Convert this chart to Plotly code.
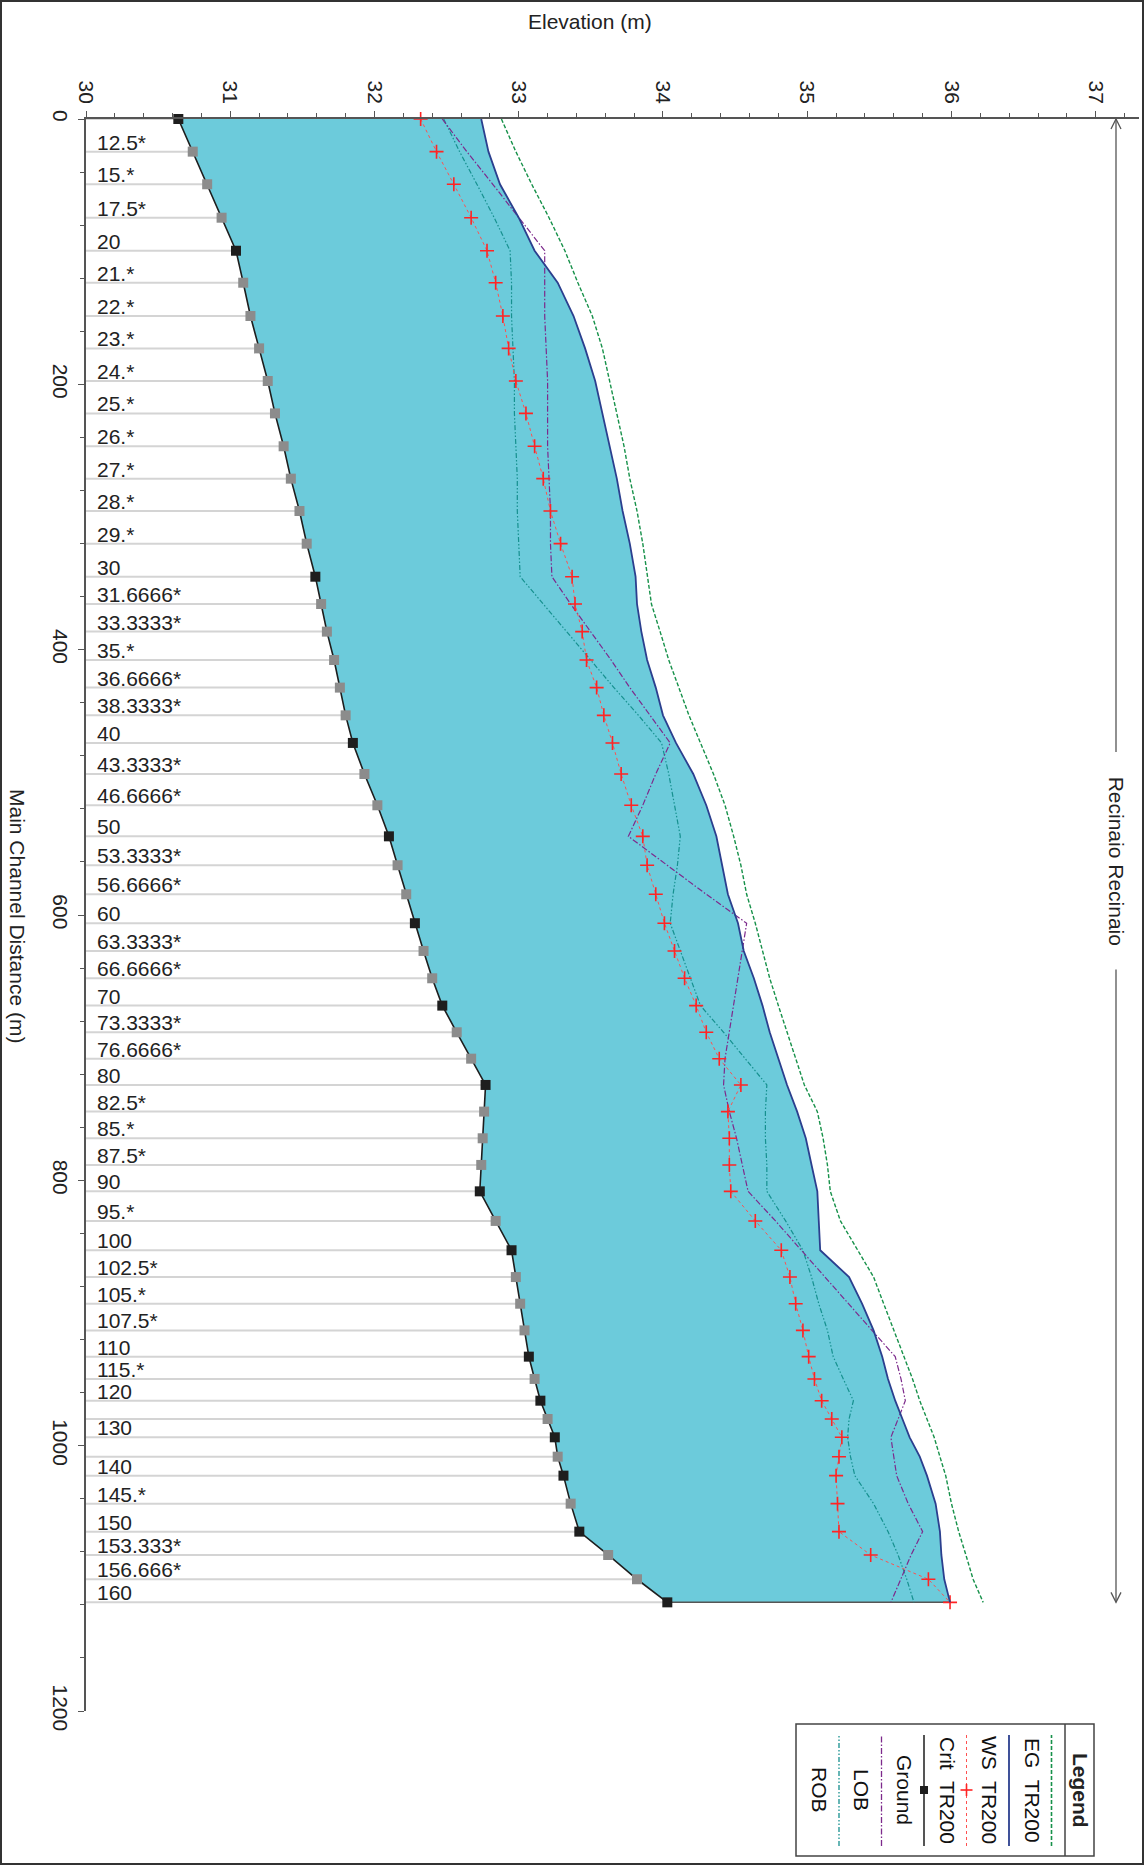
import plotly.graph_objects as go

# ---------------- data ----------------
stations = ["10", "12.5*", "15.*", "17.5*", "20", "21.*", "22.*", "23.*", "24.*", "25.*",
            "26.*", "27.*", "28.*", "29.*", "30", "31.6666*", "33.3333*", "35.*", "36.6666*",
            "38.3333*", "40", "43.3333*", "46.6666*", "50", "53.3333*", "56.6666*", "60",
            "63.3333*", "66.6666*", "70", "73.3333*", "76.6666*", "80", "82.5*", "85.*", "87.5*",
            "90", "95.*", "100", "102.5*", "105.*", "107.5*", "110", "115.*", "120", "125.*",
            "130", "135.*", "140", "145.*", "150", "153.333*", "156.666*", "160"]
hidden_labels = ["10", "125.*", "135.*"]

distance = [0, 24.6, 49.2, 74.4, 99.3, 123.4, 148.5, 172.9, 197.5, 221.9, 246.7, 271.1, 295.5,
            320.1, 345.0, 365.6, 386.4, 407.8, 428.6, 449.5, 470.3, 493.7, 517.3, 540.7, 562.5,
            584.4, 606.2, 627.1, 647.7, 668.3, 688.4, 708.3, 728.1, 748.2, 768.3, 788.4, 808.3,
            830.6, 852.7, 872.9, 893.0, 913.1, 932.9, 949.7, 966.1, 979.9, 993.7, 1008.3, 1022.6,
            1043.7, 1064.8, 1082.4, 1100.7, 1118.1]

ground = [30.64, 30.74, 30.84, 30.94, 31.04, 31.09, 31.14, 31.20, 31.26, 31.31, 31.37, 31.42,
          31.48, 31.53, 31.59, 31.63, 31.67, 31.72, 31.76, 31.80, 31.85, 31.93, 32.02, 32.10,
          32.16, 32.22, 32.28, 32.34, 32.40, 32.47, 32.57, 32.67, 32.77, 32.76, 32.75, 32.74,
          32.73, 32.84, 32.95, 32.98, 33.01, 33.04, 33.07, 33.11, 33.15, 33.20, 33.25, 33.27,
          33.31, 33.36, 33.42, 33.62, 33.82, 34.03]

ws_tr200 = [32.74, 32.79, 32.87, 33.00, 33.11, 33.27, 33.38, 33.46, 33.53, 33.58, 33.63, 33.68,
            33.72, 33.77, 33.81, 33.82, 33.85, 33.89, 33.95, 34.00, 34.09, 34.21, 34.30, 34.37,
            34.41, 34.45, 34.52, 34.56, 34.63, 34.69, 34.74, 34.80, 34.86, 34.93, 34.99, 35.03,
            35.07, 35.08, 35.09, 35.29, 35.38, 35.46, 35.52, 35.56, 35.61, 35.66, 35.71, 35.78,
            35.83, 35.89, 35.92, 35.93, 35.95, 35.99]

crit_tr200 = [32.32, 32.43, 32.55, 32.67, 32.78, 32.84, 32.89, 32.93, 32.98, 33.05, 33.11, 33.17,
              33.22, 33.29, 33.37, 33.39, 33.44, 33.47, 33.54, 33.59, 33.65, 33.71, 33.78, 33.86,
              33.89, 33.95, 34.01, 34.08, 34.15, 34.23, 34.30, 34.39, 34.54, 34.45, 34.46, 34.46,
              34.47, 34.64, 34.82, 34.88, 34.92, 34.97, 35.01, 35.05, 35.10, 35.17, 35.24, 35.22,
              35.20, 35.21, 35.22, 35.44, 35.84, 35.99]

eg_tr200 = [32.88, 32.98, 33.09, 33.21, 33.32, 33.41, 33.51, 33.58, 33.63, 33.68, 33.73, 33.77,
            33.82, 33.86, 33.89, 33.92, 33.98, 34.04, 34.11, 34.18, 34.26, 34.35, 34.43, 34.49,
            34.54, 34.58, 34.64, 34.69, 34.74, 34.80, 34.86, 34.92, 34.98, 35.07, 35.11, 35.14,
            35.16, 35.23, 35.35, 35.46, 35.53, 35.60, 35.67, 35.73, 35.78, 35.83, 35.88, 35.92,
            35.96, 36.00, 36.05, 36.10, 36.15, 36.22]

lob = [32.47, 32.64, 32.82, 33.00, 33.18, 33.18, 33.18, 33.19, 33.20, 33.20, 33.20, 33.21,
       33.22, 33.22, 33.23, 33.36, 33.50, 33.64, 33.77, 33.91, 34.05, 33.95, 33.86, 33.76,
       34.03, 34.30, 34.58, 34.55, 34.52, 34.49, 34.46, 34.43, 34.42, 34.46, 34.51, 34.55,
       34.59, 34.78, 34.96, 35.12, 35.29, 35.45, 35.61, 35.65, 35.68, 35.63, 35.58, 35.60,
       35.62, 35.70, 35.80, 35.72, 35.65, 35.58]

rob = [32.48, 32.59, 32.71, 32.83, 32.94, 32.95, 32.95, 32.96, 32.97, 32.97, 32.98, 32.99,
       32.99, 33.00, 33.01, 33.17, 33.33, 33.50, 33.66, 33.83, 33.99, 34.04, 34.08, 34.12,
       34.10, 34.07, 34.05, 34.12, 34.19, 34.26, 34.42, 34.57, 34.72, 34.71, 34.71, 34.72,
       34.72, 34.85, 34.97, 35.03, 35.08, 35.14, 35.18, 35.25, 35.32, 35.29, 35.28, 35.30,
       35.33, 35.46, 35.56, 35.63, 35.69, 35.74]

reach_name = "Recinaio Recinaio"
x_range = [30, 37.3]
y_range = [1200, 0]

# ---------------- layout helpers ----------------
W, H = 1144, 1865
L, R, T, B = 86, 1139, 119, 1711


def px(x):
    return (x - L) / (R - L)


def py(y):
    return (B - y) / (B - T)


FONT = "Liberation Sans, Arial, sans-serif"
TXT = "#222222"
AX = "#555555"
C_WS = "#2b3f8e"
C_EG = "#17914a"
C_CRIT = "#ff2424"
C_LOB = "#7d2a8c"
C_ROB = "#16908f"
C_FILL = "#6ccbdb"
DASH_EG = "4px,2px"
DASH_LOB = "6px,2px,1.5px,2px"
DASH_ROB = "5px,2px,1.5px,2px,1.5px,2px"

fig = go.Figure()

# station lines from axis to ground
sx, sy = [], []
for d, g in zip(distance, ground):
    sx += [x_range[0], g, None]
    sy += [d, d, None]
fig.add_trace(go.Scatter(x=sx, y=sy, mode="lines", line=dict(color="#d4d4d4", width=2),
                         hoverinfo="skip", showlegend=False))

# water fill between ground and WS
fig.add_trace(go.Scatter(x=ground, y=distance, mode="lines", line=dict(width=0, color=C_FILL),
                         hoverinfo="skip", showlegend=False))
fig.add_trace(go.Scatter(x=ws_tr200, y=distance, mode="lines", line=dict(width=0, color=C_FILL),
                         fill="tonextx", fillcolor=C_FILL, hoverinfo="skip", showlegend=False))
fig.add_trace(go.Scatter(x=[ground[-1], ws_tr200[-1]], y=[distance[-1], distance[-1]],
                         mode="lines", line=dict(color="#555555", width=1.5),
                         hoverinfo="skip", showlegend=False))

# bank stations
fig.add_trace(go.Scatter(x=rob, y=distance, mode="lines", name="ROB",
                         line=dict(color=C_ROB, width=1.2, dash=DASH_ROB), showlegend=False))
fig.add_trace(go.Scatter(x=lob, y=distance, mode="lines", name="LOB",
                         line=dict(color=C_LOB, width=1.2, dash=DASH_LOB), showlegend=False))
# EG
fig.add_trace(go.Scatter(x=eg_tr200, y=distance, mode="lines", name="EG TR200",
                         line=dict(color=C_EG, width=1.4, dash=DASH_EG), showlegend=False))
# Crit
fig.add_trace(go.Scatter(x=crit_tr200, y=distance, mode="lines+markers", name="Crit TR200",
                         line=dict(color="#ff5050", width=1, dash="dot"),
                         marker=dict(symbol="cross-thin", size=10,
                                     line=dict(color=C_CRIT, width=1.6)),
                         cliponaxis=False, showlegend=False))
# WS
fig.add_trace(go.Scatter(x=ws_tr200, y=distance, mode="lines", name="WS TR200",
                         line=dict(color=C_WS, width=1.8), showlegend=False))
# Ground
gcolors = ["#8c8c8c" if "*" in s else "#1e1e1e" for s in stations]
fig.add_trace(go.Scatter(x=ground, y=distance, mode="lines+markers", name="Ground",
                         line=dict(color="#1e1e1e", width=1.6),
                         marker=dict(symbol="square", size=10, color=gcolors,
                                     line=dict(width=0)),
                         cliponaxis=False, showlegend=False))

annotations = []
shapes = []

# station labels
for s, d in zip(stations, distance):
    if s in hidden_labels:
        continue
    annotations.append(dict(x=x_range[0], y=d, xref="x", yref="y", text=s, showarrow=False,
                            xanchor="left", yanchor="bottom", xshift=9, yshift=-4,
                            font=dict(family=FONT, size=21, color=TXT)))

# axis titles
annotations.append(dict(x=px(590), y=py(22), xref="paper", yref="paper", text="Elevation (m)",
                        showarrow=False, xanchor="center", yanchor="middle",
                        font=dict(family=FONT, size=21, color=TXT)))
annotations.append(dict(x=px(18), y=py(916), xref="paper", yref="paper",
                        text="Main Channel Distance (m)", textangle=90, showarrow=False,
                        xanchor="center", yanchor="middle",
                        font=dict(family=FONT, size=21, color=TXT)))

# reach marker on the right
reach_len = distance[-1]
mid = reach_len / 2
gap = 82
xr = px(1116)
shapes.append(dict(type="line", xref="paper", yref="y", x0=xr, x1=xr, y0=0, y1=mid - gap,
                   line=dict(color="#555555", width=1.3)))
shapes.append(dict(type="line", xref="paper", yref="y", x0=xr, x1=xr, y0=mid + gap,
                   y1=reach_len, line=dict(color="#555555", width=1.3)))
shapes.append(dict(type="path", xref="paper", yref="y", xsizemode="pixel", ysizemode="pixel",
                   xanchor=xr, yanchor=0, path="M -5,-10 L 0,0 L 5,-10",
                   line=dict(color="#555555", width=1.3)))
shapes.append(dict(type="path", xref="paper", yref="y", xsizemode="pixel", ysizemode="pixel",
                   xanchor=xr, yanchor=reach_len, path="M -5,10 L 0,0 L 5,10",
                   line=dict(color="#555555", width=1.3)))
annotations.append(dict(x=xr, y=mid, xref="paper", yref="y", text=reach_name, textangle=90,
                        showarrow=False, xanchor="center", yanchor="middle",
                        font=dict(family=FONT, size=21, color=TXT)))

# legend box (custom, rotated like the original)
shapes.append(dict(type="rect", xref="paper", yref="paper", x0=px(796), x1=px(1094),
                   y0=py(1856), y1=py(1724), line=dict(color="#444444", width=1.5)))
shapes.append(dict(type="line", xref="paper", yref="paper", x0=px(1065), x1=px(1065),
                   y0=py(1856), y1=py(1724), line=dict(color="#444444", width=1.5)))
annotations.append(dict(x=px(1081), y=py(1790), xref="paper", yref="paper",
                        text="<b>Legend</b>", textangle=90, showarrow=False,
                        xanchor="center", yanchor="middle",
                        font=dict(family=FONT, size=21, color=TXT)))
legend_items = [
    ("EG  TR200", 1051.5, 1033, dict(color=C_EG, width=1.6, dash=DASH_EG)),
    ("WS  TR200", 1009, 990, dict(color=C_WS, width=1.8)),
    ("Crit  TR200", 966.5, 948, dict(color="#ff5050", width=1, dash="dot")),
    ("Ground", 924, 905, dict(color="#555555", width=2)),
    ("LOB", 881.5, 862, dict(color=C_LOB, width=1.3, dash=DASH_LOB)),
    ("ROB", 839, 820, dict(color=C_ROB, width=1.3, dash=DASH_ROB)),
]
for text, lx, tx, ln in legend_items:
    shapes.append(dict(type="line", xref="paper", yref="paper", x0=px(lx), x1=px(lx),
                       y0=py(1846), y1=py(1735), line=ln))
    annotations.append(dict(x=px(tx), y=py(1790), xref="paper", yref="paper", text=text,
                            textangle=90, showarrow=False, xanchor="center", yanchor="middle",
                            font=dict(family=FONT, size=21, color="#111111")))
# crit '+' marker and ground square in legend
shapes.append(dict(type="line", xref="paper", yref="paper", x0=px(966.5 - 6), x1=px(966.5 + 6),
                   y0=py(1790), y1=py(1790), line=dict(color=C_CRIT, width=1.6)))
shapes.append(dict(type="line", xref="paper", yref="paper", x0=px(966.5), x1=px(966.5),
                   y0=py(1784), y1=py(1796), line=dict(color=C_CRIT, width=1.6)))
shapes.append(dict(type="rect", xref="paper", yref="paper", x0=px(920), x1=px(928),
                   y0=py(1794), y1=py(1786), fillcolor="#1e1e1e", line=dict(width=0)))

# outer frame
shapes.append(dict(type="rect", xref="paper", yref="paper", x0=px(1), x1=px(W - 1),
                   y0=py(H - 1), y1=py(1), line=dict(color="#333333", width=2)))

fig.update_layout(
    width=W, height=H,
    margin=dict(l=L, r=W - R, t=T, b=H - B, pad=0),
    paper_bgcolor="white", plot_bgcolor="white",
    showlegend=False,
    font=dict(family=FONT, size=21, color=TXT),
    annotations=annotations,
    shapes=shapes,
    xaxis=dict(range=x_range, side="top", tickmode="linear", tick0=30, dtick=1,
               ticks="outside", ticklen=6, tickwidth=1.2, tickcolor=AX,
               showline=True, linecolor=AX, linewidth=1.5, showgrid=False, zeroline=False,
               tickangle=90, tickfont=dict(family=FONT, size=21, color=TXT),
               minor=dict(dtick=0.2, ticks="outside", ticklen=4, tickwidth=1, tickcolor=AX,
                          showgrid=False),
               automargin=False, fixedrange=True),
    yaxis=dict(range=y_range, tickmode="linear", tick0=0, dtick=200,
               ticks="outside", ticklen=6, tickwidth=1.2, tickcolor=AX,
               showline=True, linecolor=AX, linewidth=1.5, showgrid=False, zeroline=False,
               tickangle=90, tickfont=dict(family=FONT, size=21, color=TXT),
               minor=dict(dtick=40, ticks="outside", ticklen=4, tickwidth=1, tickcolor=AX,
                          showgrid=False),
               automargin=False, fixedrange=True),
)

fig.write_html("out.html", config={"displayModeBar": False},
               post_script="document.body.style.margin='0px';document.body.style.padding='0px';"
                           "document.documentElement.style.overflow='hidden';")
